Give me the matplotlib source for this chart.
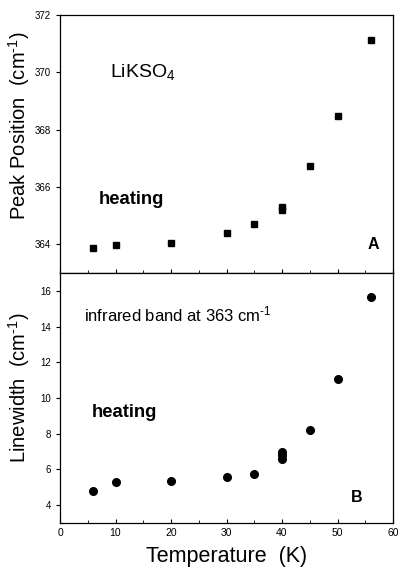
import matplotlib
matplotlib.use("Agg")
import matplotlib.pyplot as plt
from matplotlib.ticker import MultipleLocator

plt.rcParams['font.family'] = ['Liberation Sans', 'DejaVu Sans']
plt.rcParams['mathtext.fontset'] = 'custom'
plt.rcParams['mathtext.rm'] = 'Liberation Sans'
plt.rcParams['mathtext.it'] = 'Liberation Sans:italic'
plt.rcParams['mathtext.bf'] = 'Liberation Sans:bold'

temp_a = [6, 10, 20, 30, 35, 40, 40, 45, 50, 56]
peak_a = [363.88, 363.97, 364.05, 364.39, 364.72, 365.2, 365.3, 366.72, 368.46, 371.13]

temp_b = [6, 10, 20, 30, 35, 40, 40, 40, 45, 50, 56]
width_b = [4.78, 5.32, 5.38, 5.55, 5.77, 6.6, 6.8, 6.98, 8.19, 11.08, 15.66]

fig = plt.figure(figsize=(3.99, 5.75), dpi=100)
L, R = 60 / 399, 393 / 399
ax1 = fig.add_axes([L, 1 - 273 / 575, R - L, 258 / 575])
ax2 = fig.add_axes([L, 1 - 523 / 575, R - L, 250 / 575])

ax1.plot(temp_a, peak_a, 's', color='black', ms=5)
ax2.plot(temp_b, width_b, 'o', color='black', ms=5.5)

for ax in (ax1, ax2):
    ax.set_xlim(0, 60)
    ax.xaxis.set_major_locator(MultipleLocator(10))
    ax.xaxis.set_minor_locator(MultipleLocator(5))
    ax.tick_params(axis='x', which='both', direction='in', top=False)
    ax.tick_params(axis='x', which='major', length=3, width=0.8)
    ax.tick_params(axis='x', which='minor', length=2, width=0.6)
    ax.tick_params(axis='y', direction='out', length=3, width=0.8, labelsize=7, right=False)
    ax.tick_params(axis='x', labelsize=7.5)
    for s in ax.spines.values():
        s.set_linewidth(0.9)

ax1.set_ylim(363, 372)
ax1.yaxis.set_major_locator(MultipleLocator(2))
ax1.tick_params(axis='x', labelbottom=False)
ax2.set_ylim(3, 17)
ax2.yaxis.set_major_locator(MultipleLocator(2))

sup = r'$^{\text{-1}}$'
ax1.set_ylabel('Peak Position  (cm' + sup + ')', fontsize=14.5)
ax1.yaxis.set_label_coords(-0.084, 0.57)
ax2.set_ylabel('Linewidth  (cm' + sup + ')', fontsize=14.5)
ax2.yaxis.set_label_coords(-0.084, 0.54)
ax2.set_xlabel('Temperature  (K)', fontsize=15.5, labelpad=6)

ax1.text(9.0, 370.0, 'LiKSO$_4$', fontsize=14, va='center')
ax1.text(7.0, 365.55, 'heating', fontsize=13.3, fontweight='bold', va='center')
ax1.text(56.4, 364.0, 'A', fontsize=11.5, fontweight='bold', va='center', ha='center')

ax2.text(4.3, 14.66, 'infrared band at 363 cm' + sup, fontsize=12, va='center')
ax2.text(5.8, 9.2, 'heating', fontsize=13.3, fontweight='bold', va='center')
ax2.text(53.5, 4.44, 'B', fontsize=11.5, fontweight='bold', va='center', ha='center')

fig.savefig('out.png', dpi=100)
